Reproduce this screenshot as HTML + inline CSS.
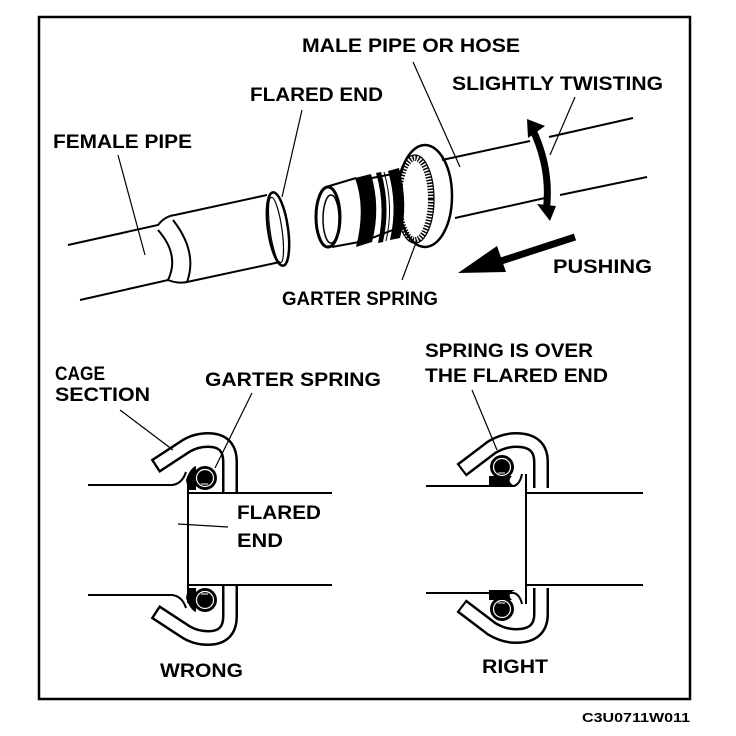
<!DOCTYPE html>
<html><head><meta charset="utf-8"><style>
html,body{margin:0;padding:0;background:#fff;}
svg{display:block;}
text{font-family:"Liberation Sans",Arial,sans-serif;font-weight:bold;font-size:19px;fill:#000;}
</style></head><body>
<svg width="736" height="736" viewBox="0 0 736 736" xmlns="http://www.w3.org/2000/svg">
<defs>
<g id="cageL">
  <path d="M155,466.3 L186,446 Q196,440 208,440 Q230,440 230,462 L230,494" fill="none" stroke="#000" stroke-width="16"/>
  <path d="M157,465 L186,446 Q196,440 208,440 Q230,440 230,462 L230,496" fill="none" stroke="#fff" stroke-width="11"/>
  <path d="M186,480 Q190,468 196,466 L196,490 L188,490 Z" fill="#000"/>
  <circle cx="205" cy="478" r="12" fill="#000"/>
  <circle cx="205" cy="478" r="8.5" fill="none" stroke="#fff" stroke-width="1.2"/>
  <line x1="201" y1="484" x2="208" y2="484" stroke="#fff" stroke-width="1"/>
</g>
<g id="cageR">
  <path d="M461.3,470.3 L492,447 Q504,440 516,440 Q541,440 541,462 L541,488" fill="none" stroke="#000" stroke-width="16"/>
  <path d="M463,469 L492,447 Q504,440 516,440 Q541,440 541,462 L541,490" fill="none" stroke="#fff" stroke-width="11"/>
  <circle cx="502" cy="467" r="12" fill="#000"/>
  <circle cx="502" cy="467" r="8.5" fill="none" stroke="#fff" stroke-width="1.2"/>
  <line x1="498" y1="473" x2="505" y2="473" stroke="#fff" stroke-width="1"/>
  <path d="M489,476 L489,486 L515,486 Q506,482 512,476 Z" fill="#000"/>
</g>
</defs>

<rect x="39" y="17" width="651" height="682" fill="none" stroke="#000" stroke-width="2.5"/>
<text x="582" y="722" style="font-size:13px" textLength="108" lengthAdjust="spacingAndGlyphs">C3U0711W011</text>

<g fill="none" stroke="#000" stroke-width="2">
  <path d="M68,245 L158,225 Q165,216 175,215 L267,195"/>
  <path d="M80,300 L168,280 Q178,284 187,282 L280,262"/>
  <path d="M158,230 Q180,255 168,280"/>
  <path d="M173,220 Q198,252 187,282"/>
  <ellipse cx="278" cy="229" rx="10" ry="37" transform="rotate(-8 278 229)" stroke-width="2.5"/>
  <ellipse cx="276" cy="230" rx="6" ry="33" transform="rotate(-8 276 230)" stroke-width="1.2"/>
  <path d="M326,187 L356,178"/>
  <path d="M332,247 L370,240"/>
  <ellipse cx="328" cy="217" rx="12" ry="30" stroke-width="3"/>
  <ellipse cx="331" cy="219" rx="8" ry="24" stroke-width="1.5"/>
  <ellipse cx="425" cy="196" rx="27" ry="51" stroke-width="2.5"/>
  <ellipse cx="415" cy="199" rx="16" ry="41" stroke-width="6" stroke-dasharray="1.5 1.5"/>
  <ellipse cx="415" cy="199" rx="19" ry="44" stroke-width="1.2"/>
  <path d="M403,172 L372,178"/>
  <path d="M403,226 L372,238"/>
  <path d="M442,160 L530,141 M549,137 L633,118"/>
  <path d="M455,218 L545,198 M560,195 L647,177"/>
</g>
<path d="M355,178 Q366,208 356,247 L372,242 Q381,208 371,174 Z" fill="#000"/>
<path d="M376,173 Q386,206 378,243 L383,242 Q391,206 381,172 Z" fill="#000"/>
<path d="M388,171 Q398,205 390,240 L400,238 Q409,205 399,168 Z" fill="#000"/>
<path d="M384,172 Q394,206 386,241" fill="none" stroke="#000" stroke-width="1"/>

<path d="M532,128 Q552,170 546,212" fill="none" stroke="#000" stroke-width="7"/>
<polygon points="527,119 545,126 528,138" fill="#000"/>
<polygon points="537,204 556,206 550,221" fill="#000"/>
<line x1="575" y1="237" x2="495" y2="263" stroke="#000" stroke-width="7"/>
<polygon points="458,273 497,246 506,272" fill="#000"/>

<g stroke="#000" stroke-width="1.2" fill="none">
  <line x1="118" y1="155" x2="145" y2="255"/>
  <line x1="302" y1="110" x2="282" y2="197"/>
  <line x1="413" y1="62" x2="460" y2="167"/>
  <line x1="575" y1="97" x2="550" y2="155"/>
  <line x1="417" y1="240" x2="402" y2="280"/>
</g>

<text x="302" y="52" textLength="218" lengthAdjust="spacingAndGlyphs">MALE PIPE OR HOSE</text>
<text x="452" y="90" textLength="211" lengthAdjust="spacingAndGlyphs">SLIGHTLY TWISTING</text>
<text x="250" y="101" textLength="133" lengthAdjust="spacingAndGlyphs">FLARED END</text>
<text x="53" y="148" textLength="139" lengthAdjust="spacingAndGlyphs">FEMALE PIPE</text>
<text x="553" y="273" textLength="99" lengthAdjust="spacingAndGlyphs">PUSHING</text>
<text x="282" y="305" textLength="156" lengthAdjust="spacingAndGlyphs">GARTER SPRING</text>

<use href="#cageL"/>
<use href="#cageL" transform="translate(0,1078) scale(1,-1)"/>
<g stroke="#000" stroke-width="2" fill="none">
  <path d="M88,485 L172,485 Q182,484 186,472"/>
  <path d="M88,595 L172,595 Q182,596 186,608"/>
  <line x1="188" y1="476" x2="188" y2="603"/>
  <line x1="188" y1="493" x2="332" y2="493"/>
  <line x1="188" y1="585" x2="332" y2="585"/>
</g>
<g stroke="#000" stroke-width="1.2">
  <line x1="120" y1="410" x2="173" y2="450"/>
  <line x1="252" y1="393" x2="215" y2="468"/>
  <line x1="178" y1="524" x2="228" y2="527"/>
</g>
<text x="55" y="380" textLength="50" lengthAdjust="spacingAndGlyphs">CAGE</text>
<text x="55" y="401" textLength="95" lengthAdjust="spacingAndGlyphs">SECTION</text>
<text x="205" y="386" textLength="176" lengthAdjust="spacingAndGlyphs">GARTER SPRING</text>
<text x="237" y="519" textLength="84" lengthAdjust="spacingAndGlyphs">FLARED</text>
<text x="237" y="547" textLength="46" lengthAdjust="spacingAndGlyphs">END</text>
<text x="160" y="677" textLength="83" lengthAdjust="spacingAndGlyphs">WRONG</text>

<use href="#cageR"/>
<use href="#cageR" transform="translate(0,1076) scale(1,-1)"/>
<g stroke="#000" stroke-width="2" fill="none">
  <path d="M426,486 L514,486 Q520,484 522,474"/>
  <path d="M426,593 L514,593 Q520,595 522,604"/>
  <line x1="526" y1="474" x2="526" y2="604"/>
  <line x1="526" y1="493" x2="643" y2="493"/>
  <line x1="526" y1="585" x2="643" y2="585"/>
</g>
<line x1="472" y1="390" x2="497" y2="450" stroke="#000" stroke-width="1.2"/>
<text x="425" y="357" textLength="168" lengthAdjust="spacingAndGlyphs">SPRING IS OVER</text>
<text x="425" y="382" textLength="183" lengthAdjust="spacingAndGlyphs">THE FLARED END</text>
<text x="482" y="673" textLength="66" lengthAdjust="spacingAndGlyphs">RIGHT</text>
</svg>
</body></html>
